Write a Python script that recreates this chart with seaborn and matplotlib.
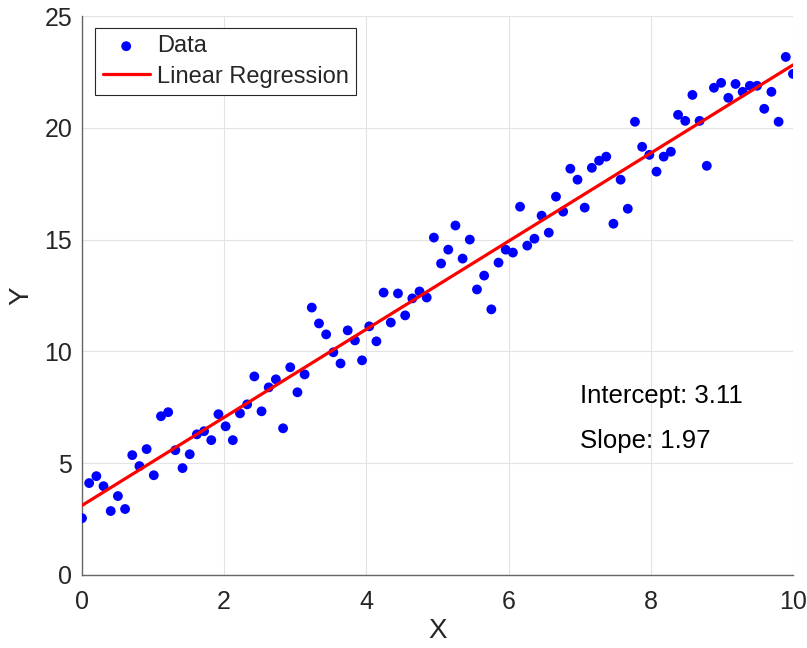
import numpy as np
import pandas as pd
import matplotlib
matplotlib.use("Agg")
import matplotlib.pyplot as plt
import seaborn as sns

# Sample observations: 100 evenly spaced x values from 0 to 10
x_values = np.linspace(0, 10, 100)
y_values = [
    2.54, 4.11, 4.42, 3.97, 2.86, 3.53, 2.95, 5.36, 4.87, 5.63,
    4.46, 7.10, 7.28, 5.58, 4.78, 5.40, 6.29, 6.43, 6.03, 7.19,
    6.65, 6.03, 7.23, 7.63, 8.88, 7.32, 8.39, 8.75, 6.56, 9.29,
    8.17, 8.97, 11.96, 11.25, 10.76, 9.96, 9.46, 10.94, 10.49, 9.60,
    11.12, 10.45, 12.63, 11.29, 12.59, 11.61, 12.37, 12.68, 12.41, 15.09,
    13.93, 14.55, 15.63, 14.15, 15.00, 12.77, 13.39, 11.88, 13.97, 14.55,
    14.42, 16.47, 14.73, 15.04, 16.07, 15.31, 16.92, 16.25, 18.17, 17.68,
    16.43, 18.21, 18.53, 18.71, 15.71, 17.68, 16.38, 20.27, 19.15, 18.79,
    18.04, 18.71, 18.93, 20.58, 20.31, 21.47, 20.31, 18.30, 21.79, 22.01,
    21.34, 21.96, 21.61, 21.88, 21.88, 20.85, 21.61, 20.27, 23.17, 22.41,
]

# Fitted model coefficients
intercept = 3.11
slope = 1.97

x_ticks = [0, 2, 4, 6, 8, 10]
y_ticks = [0, 5, 10, 15, 20, 25]

data = pd.DataFrame({"X": x_values, "Y": y_values})
fit = pd.DataFrame({"X": [0.0, 10.0]})
fit["Y"] = intercept + slope * fit["X"]

sns.set_style("white")
plt.rcParams["font.family"] = ["Liberation Sans", "DejaVu Sans"]

fig = plt.figure(figsize=(8.07, 6.48), dpi=100)
ax = fig.add_axes([0.1016, 0.1127, 0.8810, 0.8626])

text_color = (0.15, 0.15, 0.15)
axis_color = (0.4, 0.4, 0.4)

sns.scatterplot(data=data, x="X", y="Y", ax=ax, color=(0, 0, 1), s=50,
                edgecolor="none", label="Data", zorder=3)
sns.lineplot(data=fit, x="X", y="Y", ax=ax, color=(1, 0, 0), linewidth=2.3,
             label="Linear Regression", zorder=4)

ax.set_xlim(0, 10)
ax.set_ylim(0, 25)
ax.set_xticks(x_ticks)
ax.set_yticks(y_ticks)
ax.grid(True, color=(0.89, 0.89, 0.89), linewidth=0.8)
ax.set_axisbelow(True)

for side in ["top", "right"]:
    ax.spines[side].set_visible(False)
for side in ["left", "bottom"]:
    ax.spines[side].set_color(axis_color)
    ax.spines[side].set_linewidth(1.0)

ax.tick_params(direction="in", length=5, width=1.0, color=axis_color,
               labelcolor=text_color, labelsize=18)
ax.tick_params(axis="x", pad=11)
ax.tick_params(axis="y", pad=7)
ax.set_xlabel("X", fontsize=20, color=text_color, labelpad=3)
ax.set_ylabel("Y", fontsize=20, color=text_color, labelpad=7)

ax.text(7, 8, f"Intercept: {intercept:.2f}", fontsize=18.5, va="center",
        ha="left", color="black")
ax.text(7, 6, f"Slope: {slope:.2f}", fontsize=18.5, va="center",
        ha="left", color="black")

leg = ax.legend(loc="upper left", bbox_to_anchor=(0.019, 0.978), fontsize=17,
                frameon=True, fancybox=False, framealpha=1, edgecolor=text_color,
                borderpad=0.3, borderaxespad=0.0, handlelength=2.0,
                handletextpad=0.3, labelspacing=0.35)
leg.get_frame().set_linewidth(0.8)

fig.savefig("out.png", dpi=100)
